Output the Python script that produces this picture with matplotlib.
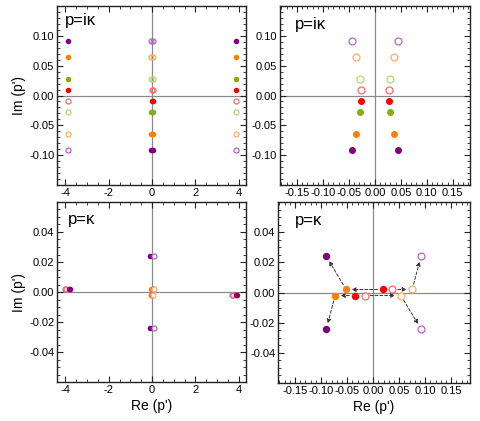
import matplotlib
matplotlib.use('Agg')
import matplotlib.pyplot as plt
from matplotlib.ticker import MultipleLocator, FormatStrFormatter, FixedLocator

plt.rcParams['font.family'] = ['Liberation Sans', 'DejaVu Sans']

# colours: red, green, orange, purple (filled) and their lighter versions (open)
fill_cols = ['#ff0000', '#7fb010', '#ff8000', '#800080']
open_cols = ['#ff6a6a', '#b5d46e', '#ffac60', '#b865c8']

# tick values
wide_x_ticks = [-4, -2, 0, 2, 4]
narrow_x_ticks = [-0.15, -0.10, -0.05, 0.0, 0.05, 0.10, 0.15]
ik_y_ticks = [-0.10, -0.05, 0.0, 0.05, 0.10]
k_y_ticks = [-0.04, -0.02, 0.0, 0.02, 0.04]

# p = i kappa : roots per level (red, green, orange, purple)
ik_im = [0.0095, 0.0275, 0.065, 0.092]
ik_re_inner = [0.027, 0.029, 0.037, 0.045]
ik_re_outer = [3.86, 3.86, 3.86, 3.86]

# p = kappa : levels red, orange, purple
k_cols = [0, 2, 3]
k_fill_up = [(0.019, 0.002), (-0.052, 0.002), (-0.090, 0.024)]
k_fill_dn = [(-0.035, -0.002), (-0.073, -0.002), (-0.090, -0.024)]
k_open_up = [(0.037, 0.002), (0.075, 0.002), (0.092, 0.024)]
k_open_dn = [(-0.0165, -0.002), (0.053, -0.002), (0.092, -0.024)]

# far roots for p = kappa (only visible in the wide panel)
k_far_left_x = [-4.0, -3.95, -3.85, -3.78]
k_far_right_x = [3.70, 3.75, 3.85, 3.92]
k_far_kind = ['open', 'open', 'fill', 'fill']
k_far_col = [3, 0, 0, 3]
k_far_y = 0.002


def setup(ax, xlim, ylim, xticks, xmin, yticks, ymin, xfmt, yfmt):
    ax.set_xlim(*xlim)
    ax.set_ylim(*ylim)
    ax.axhline(0, color='#8a8a8a', lw=0.9, zorder=1)
    ax.axvline(0, color='#8a8a8a', lw=0.9, zorder=1)
    ax.xaxis.set_major_locator(FixedLocator(xticks))
    ax.xaxis.set_minor_locator(MultipleLocator(xmin))
    ax.yaxis.set_major_locator(FixedLocator(yticks))
    ax.yaxis.set_minor_locator(MultipleLocator(ymin))
    ax.xaxis.set_major_formatter(FormatStrFormatter(xfmt))
    ax.yaxis.set_major_formatter(FormatStrFormatter(yfmt))
    ax.tick_params(which='both', direction='in', top=True, right=True,
                   labelsize=8, pad=2, color='#222222')
    ax.tick_params(which='major', length=4, width=0.8)
    ax.tick_params(which='minor', length=2, width=0.6)
    for s in ax.spines.values():
        s.set_linewidth(1.0)
        s.set_color('#222222')


def ik_points(ax, inner_only, fs, os_):
    for i in range(4):
        for sgn in (-1, 1):
            ax.plot(sgn * ik_re_inner[i], -ik_im[i], 'o', ms=fs, color=fill_cols[i], zorder=3)
            ax.plot(sgn * ik_re_inner[i], ik_im[i], 'o', ms=os_, mfc='none', mec=open_cols[i], mew=0.9, zorder=3)
            if not inner_only:
                ax.plot(sgn * ik_re_outer[i], ik_im[i], 'o', ms=fs, color=fill_cols[i], zorder=3)
                ax.plot(sgn * ik_re_outer[i], -ik_im[i], 'o', ms=os_, mfc='none', mec=open_cols[i], mew=0.9, zorder=3)


def k_points(ax, fs, os_):
    for j, c in enumerate(k_cols):
        for p in (k_fill_up[j], k_fill_dn[j]):
            ax.plot(p[0], p[1], 'o', ms=fs, color=fill_cols[c], zorder=3)
        for p in (k_open_up[j], k_open_dn[j]):
            ax.plot(p[0], p[1], 'o', ms=os_, mfc='white', mec=open_cols[c], mew=0.9, zorder=3)


fig = plt.figure(figsize=(4.8, 4.21), dpi=100)

# top left
ax1 = fig.add_axes([0.119, 0.5606, 0.3935, 0.425])
setup(ax1, (-4.38, 4.33), (-0.15, 0.15), wide_x_ticks, 0.5, ik_y_ticks, 0.01, '%d', '%.2f')
ik_points(ax1, False, 3.0, 3.6)
ax1.set_ylabel("Im (p')", fontsize=10, labelpad=2)
ax1.text(0.042, 0.895, 'p=iκ', transform=ax1.transAxes, fontsize=12)

# top right
ax2 = fig.add_axes([0.583, 0.5606, 0.396, 0.425])
setup(ax2, (-0.183, 0.183), (-0.15, 0.15), narrow_x_ticks, 0.01, ik_y_ticks, 0.01, '%.2f', '%.2f')
ik_points(ax2, True, 4.0, 5.0)
ax2.text(0.079, 0.87, 'p=iκ', transform=ax2.transAxes, fontsize=12)

# bottom left
ax3 = fig.add_axes([0.119, 0.0926, 0.3935, 0.4276])
setup(ax3, (-4.38, 4.33), (-0.06, 0.06), wide_x_ticks, 0.5, k_y_ticks, 0.005, '%d', '%.2f')
k_points(ax3, 3.0, 3.6)
for j in range(4):
    c = k_far_col[j]
    for x, y in ((k_far_left_x[j], k_far_y), (k_far_right_x[j], -k_far_y)):
        if k_far_kind[j] == 'fill':
            ax3.plot(x, y, 'o', ms=3.0, color=fill_cols[c], zorder=3)
        else:
            ax3.plot(x, y, 'o', ms=3.6, mfc='none', mec=open_cols[c], mew=0.9, zorder=3)
ax3.set_ylabel("Im (p')", fontsize=10, labelpad=2)
ax3.set_xlabel("Re (p')", fontsize=10, labelpad=3)
ax3.text(0.058, 0.875, 'p=κ', transform=ax3.transAxes, fontsize=12)

# bottom right
ax4 = fig.add_axes([0.579, 0.0902, 0.4, 0.43])
setup(ax4, (-0.183, 0.186), (-0.06, 0.06), narrow_x_ticks, 0.01, k_y_ticks, 0.005, '%.2f', '%.2f')
arrow = dict(arrowstyle='-|>', linestyle=(0, (3, 2)), color='#333333', lw=0.7,
             mutation_scale=6, shrinkA=4, shrinkB=4)
for pts in (k_fill_up, k_fill_dn, k_open_up, k_open_dn):
    for a, b in ((pts[0], pts[1]), (pts[1], pts[2])):
        ax4.annotate('', xy=b, xytext=a, arrowprops=arrow, zorder=2)
k_points(ax4, 4.3, 5.0)
ax4.set_xlabel("Re (p')", fontsize=10, labelpad=3)
ax4.text(0.088, 0.875, 'p=κ', transform=ax4.transAxes, fontsize=12)

fig.savefig('out.png', dpi=100)
